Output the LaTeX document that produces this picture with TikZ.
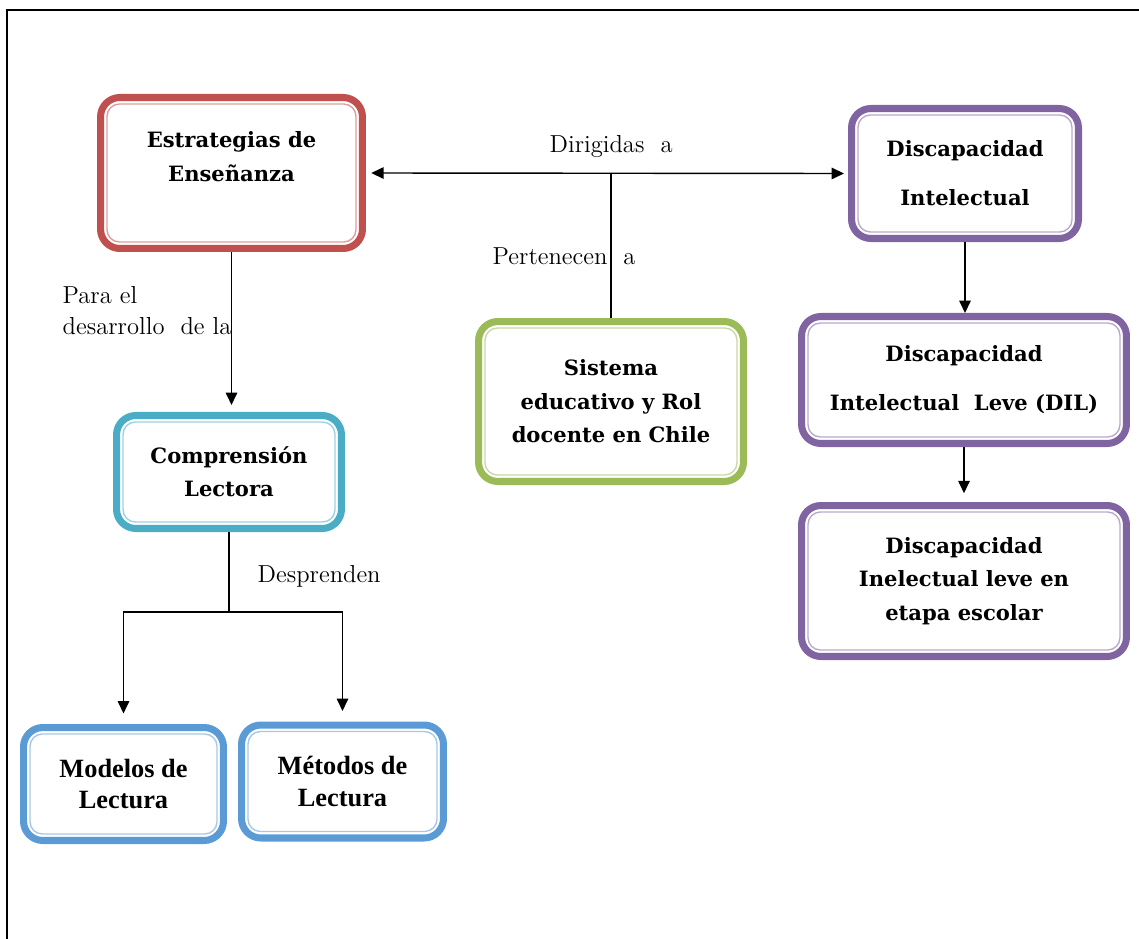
\documentclass[tikz,border=0pt]{standalone}
\usepackage{fontspec}
\newfontfamily\boxfont{DejaVu Serif}
\newfontfamily\timesfont{Liberation Serif}
\usepackage{tikz}
\usetikzlibrary{calc}
\usetikzlibrary{arrows.meta}
\definecolor{rojo}{HTML}{C0504D}
\definecolor{lila}{HTML}{8064A2}
\definecolor{verde}{HTML}{9BBB59}
\definecolor{cian}{HTML}{4BACC6}
\definecolor{azul}{HTML}{5B9BD5}

\begin{document}
\begin{tikzpicture}[x=0.02cm,y=-0.02cm,>={Triangle[length=7pt,width=6.5pt]}
        ,line width=0.8pt
        ,topic/.style = {draw=#1, line width=4pt, rounded corners=11pt, align=center,
                         font=\boxfont\bfseries\fontsize{12}{19}\selectfont}
        ,lectura/.style = {topic=azul, font=\timesfont\bfseries\fontsize{15}{18.2}\selectfont,
                         minimum height=2.26cm}
        ,inner/.style = {line width=0.8pt, rounded corners=7pt}
        ,rel/.style = {inner sep=0pt, align=left, font=\fontsize{14}{17.6}\selectfont}
      ]
      \useasboundingbox (0,0) rectangle (1139,939);
      \draw[line width=1pt] (7,939) |- (1139,10);

      % cajas
      \node[topic=rojo, minimum width=5.24cm, minimum height=3.02cm] (ens) at (231.5,173) {Estrategias de\\Enseñanza\\ ~};
      \node[topic=lila, minimum width=4.54cm, minimum height=2.6cm] (dis) at (965,173.5) {Discapacidad\\[9pt]Intelectual};
      \node[topic=lila, minimum width=6.5cm, minimum height=2.54cm] (dil) at (964,380) {Discapacidad\\[9pt]Intelectual\ \ Leve (DIL)};
      \node[topic=lila, minimum width=6.5cm, minimum height=3.02cm] (esc) at (964,581) {Discapacidad\\Inelectual leve en\\etapa escolar};
      \node[topic=verde, minimum width=5.3cm, minimum height=3.2cm] (sis) at (611,401.5) {Sistema\\educativo y Rol\\docente en Chile};
      \node[topic=cian, minimum width=4.5cm, minimum height=2.26cm] (com) at (229,472) {Comprensión\\Lectora};
      \node[lectura, minimum width=4.0cm] (mod) at (123.5,784) {Modelos de\\Lectura};
      \node[lectura, minimum width=4.04cm] (met) at (342.5,781.5) {Métodos de\\Lectura};

      \foreach \n/\c in {ens/rojo,dis/lila,dil/lila,esc/lila,sis/verde,com/cian,mod/azul,met/azul}
        \draw[inner, draw=\c!55] ($(\n.south west)+(5.7pt,5.7pt)$) rectangle ($(\n.north east)-(5.7pt,5.7pt)$);

      % textos de enlace
      \node[rel, anchor=base west] (dir) at (549,153) {Dirigidas\ \ a};
      \node[rel, anchor=base west] (per) at (492,264) {Pertenecen\ \ a};
      \node[rel, anchor=north west] (par) at (62,286) {Para el\\desarrollo\ \ de la};
      \node[rel, anchor=base west] (des) at (257,582) {Desprenden};

      % conectores
      \draw[<->, shorten <=3pt, shorten >=2.3pt] (ens.east) -- (dis.west);
      \draw (ens.east -| sis.north) -- (sis.north);
      \draw[->, shorten >=4pt] (ens.south) -- (ens.south |- com.north);
      \coordinate (fork) at ($(com.south)+(0,80)$);
      \draw (com.south) -- (fork);
      \draw[->, shorten >=6pt] (fork) -| (mod.north);
      \draw[->, shorten >=6pt] (fork) -| (met.north);
      \draw[->] (dis.south) -- (dis.south |- dil.north);
      \draw[->, shorten >=5pt] (dil.south) -- (dil.south |- esc.north);
    \end{tikzpicture}
\end{document}
